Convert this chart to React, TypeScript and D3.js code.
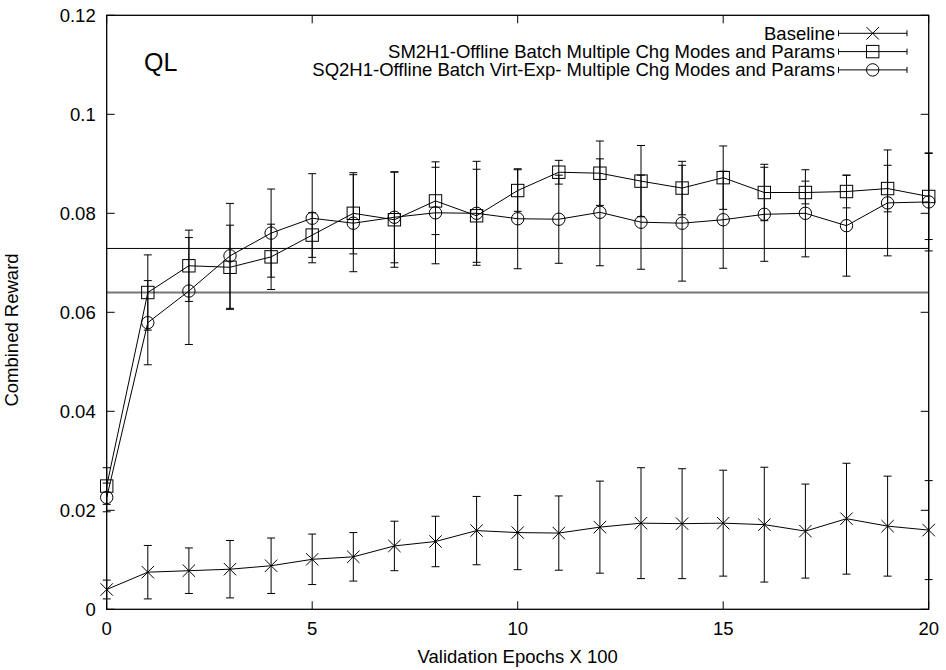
import React, { useEffect } from 'react'
import * as d3 from 'd3'

// validation epochs (x 100)
const epochs = [0, 1, 2, 3, 4, 5, 6, 7, 8, 9, 10, 11, 12, 13, 14, 15, 16, 17, 18, 19, 20]

const baselineMean = [0.0040, 0.0075, 0.0078, 0.0081, 0.0088, 0.0101, 0.0106, 0.0128, 0.0137, 0.0159, 0.0155,
    0.0154, 0.0166, 0.0174, 0.0173, 0.0174, 0.0171, 0.0158, 0.0183, 0.0168, 0.0160]
const baselineErr = [0.0019, 0.0054, 0.0046, 0.0058, 0.0056, 0.0051, 0.0049, 0.0050, 0.0051, 0.0069, 0.0075,
    0.0075, 0.0093, 0.0112, 0.0111, 0.0107, 0.0116, 0.0095, 0.0112, 0.0101, 0.0100]

const sm2Mean = [0.0249, 0.0640, 0.0694, 0.0691, 0.0712, 0.0756, 0.0800, 0.0787, 0.0825, 0.0795, 0.0846,
    0.0883, 0.0881, 0.0865, 0.0851, 0.0872, 0.0842, 0.0842, 0.0844, 0.0850, 0.0834]
const sm2Err = [0.0037, 0.0076, 0.0072, 0.0085, 0.0066, 0.0045, 0.0082, 0.0096, 0.0068, 0.0094, 0.0042,
    0.0024, 0.0065, 0.0072, 0.0054, 0.0064, 0.0057, 0.0023, 0.0033, 0.0047, 0.0087]

const sq2Mean = [0.0226, 0.0579, 0.0643, 0.0714, 0.0760, 0.0790, 0.0780, 0.0792, 0.0801, 0.0800, 0.0789,
    0.0788, 0.0802, 0.0782, 0.0780, 0.0787, 0.0798, 0.0800, 0.0775, 0.0821, 0.0823]
const sq2Err = [0.0029, 0.0085, 0.0108, 0.0106, 0.0089, 0.0090, 0.0098, 0.0092, 0.0103, 0.0105, 0.0101,
    0.0089, 0.0108, 0.0095, 0.0117, 0.0098, 0.0095, 0.0088, 0.0102, 0.0107, 0.0099]

// constant reference levels drawn across the plot
const refLevels = [0.0729, 0.0640]

const seriesNames = [
    'Baseline',
    'SM2H1-Offline Batch Multiple Chg Modes and Params',
    'SQ2H1-Offline Batch Virt-Exp- Multiple Chg Modes and Params',
]
const xTicks = [0, 5, 10, 15, 20]
const yTicks = [0, 0.02, 0.04, 0.06, 0.08, 0.1, 0.12]

const W = 946
const H = 670
const plot = { left: 106.7, right: 928.7, top: 15.3, bottom: 609.3 }
const FONT = '"Liberation Sans", Arial, Helvetica, sans-serif'
const FS = 18.5

function Marker({ kind, cx, cy }: { kind: string, cx: number, cy: number }) {
    const r = 6.2
    if (kind === 'x') {
        return <path d={`M${cx - r},${cy - r}L${cx + r},${cy + r}M${cx - r},${cy + r}L${cx + r},${cy - r}`}
            stroke="#000" strokeWidth={1} fill="none" />
    }
    if (kind === 'square') {
        return <rect x={cx - r} y={cy - r} width={2 * r} height={2 * r} stroke="#000" strokeWidth={1} fill="none" />
    }
    return <circle cx={cx} cy={cy} r={r} stroke="#000" strokeWidth={1} fill="none" />
}

function App() {
    useEffect(() => {
        document.body.style.margin = '0'
    }, [])

    const x = d3.scaleLinear().domain([0, 20]).range([plot.left, plot.right])
    const y = d3.scaleLinear().domain([0, 0.12]).range([plot.bottom, plot.top])

    const series = [
        { name: seriesNames[0], mean: baselineMean, err: baselineErr, marker: 'x' },
        { name: seriesNames[1], mean: sm2Mean, err: sm2Err, marker: 'square' },
        { name: seriesNames[2], mean: sq2Mean, err: sq2Err, marker: 'circle' },
    ]

    const line = d3.line<number>()
        .x((d, i) => x(epochs[i]))
        .y(d => y(d))

    const cap = 4
    const tickLen = 8

    return (
        <svg width={W} height={H} style={{ position: 'absolute', left: 0, top: 0, background: '#fff' }}
            fontFamily={FONT}>
            <rect x={0} y={0} width={W} height={H} fill="#fff" />

            {/* reference levels */}
            <line x1={plot.left} x2={plot.right} y1={y(refLevels[0])} y2={y(refLevels[0])} stroke="#000" strokeWidth={1} />
            <line x1={plot.left} x2={plot.right} y1={y(refLevels[1])} y2={y(refLevels[1])} stroke="#777" strokeWidth={2} />

            {/* ticks, mirrored */}
            {yTicks.map(t => (
                <g key={'y' + t}>
                    <line x1={plot.left} x2={plot.left + tickLen} y1={y(t)} y2={y(t)} stroke="#000" />
                    <line x1={plot.right} x2={plot.right - tickLen} y1={y(t)} y2={y(t)} stroke="#000" />
                    <text x={plot.left - 11} y={y(t) + 6.5} textAnchor="end" fontSize={FS}>{t === 0 ? '0' : String(t)}</text>
                </g>
            ))}
            {xTicks.map(t => (
                <g key={'x' + t}>
                    <line x1={x(t)} x2={x(t)} y1={plot.bottom} y2={plot.bottom - tickLen} stroke="#000" />
                    <line x1={x(t)} x2={x(t)} y1={plot.top} y2={plot.top + tickLen} stroke="#000" />
                    <text x={x(t)} y={635} textAnchor="middle" fontSize={FS}>{t}</text>
                </g>
            ))}

            {/* series */}
            {series.map(s => (
                <g key={s.name}>
                    <path d={line(s.mean) || ''} fill="none" stroke="#000" strokeWidth={1} />
                    {s.mean.map((m, i) => {
                        const cx = x(epochs[i])
                        const top = y(m + s.err[i])
                        const bot = y(m - s.err[i])
                        return (
                            <g key={i}>
                                <line x1={cx} x2={cx} y1={top} y2={bot} stroke="#000" />
                                <line x1={cx - cap} x2={cx + cap} y1={top} y2={top} stroke="#000" />
                                <line x1={cx - cap} x2={cx + cap} y1={bot} y2={bot} stroke="#000" />
                                <Marker kind={s.marker} cx={cx} cy={y(m)} />
                            </g>
                        )
                    })}
                </g>
            ))}

            {/* frame */}
            <rect x={plot.left} y={plot.top} width={plot.right - plot.left} height={plot.bottom - plot.top}
                fill="none" stroke="#000" strokeWidth={1.3} />

            {/* legend */}
            {series.map((s, i) => {
                const ly = 33.3 + i * 18.3
                return (
                    <g key={'leg' + i}>
                        <text x={835} y={ly + 6.5} textAnchor="end" fontSize={FS}>{s.name}</text>
                        <line x1={838.5} x2={907} y1={ly} y2={ly} stroke="#000" />
                        <line x1={838.5} x2={838.5} y1={ly - 3} y2={ly + 3} stroke="#000" />
                        <line x1={907} x2={907} y1={ly - 3} y2={ly + 3} stroke="#000" />
                        <Marker kind={s.marker} cx={872.7} cy={ly} />
                    </g>
                )
            })}

            <text x={144} y={71} fontSize={25}>QL</text>

            <text x={(plot.left + plot.right) / 2} y={663} textAnchor="middle" fontSize={FS}>Validation Epochs X 100</text>
            <text transform={`translate(18,330) rotate(-90)`} textAnchor="middle" fontSize={FS}>Combined Reward</text>
        </svg>
    )
}

export default App
